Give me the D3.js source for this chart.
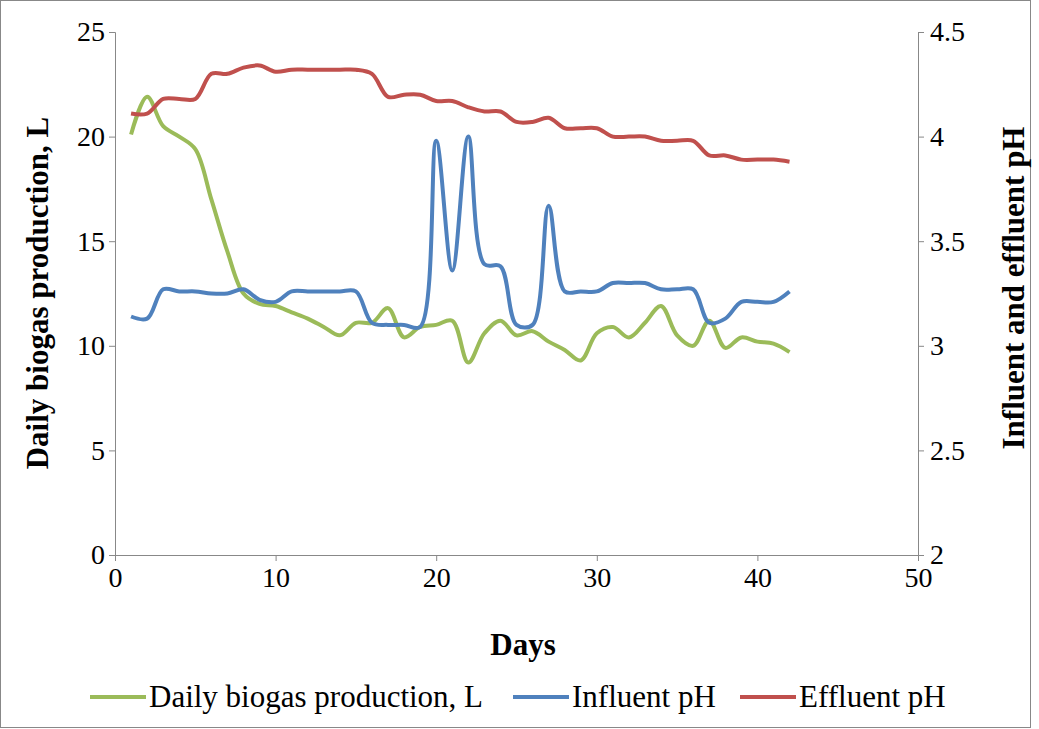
<!DOCTYPE html>
<html><head><meta charset="utf-8">
<script src="https://cdn.jsdelivr.net/npm/d3@7"></script>
<style>body{margin:0;background:#fff}svg{font-family:"Liberation Serif","Times New Roman",serif}</style>
</head><body><svg id="c" width="1039" height="729"></svg>
<script>
const days = d3.range(1,43);
const biogas = [20.1,21.9,20.5,20.0,19.4,17.0,14.5,12.5,12.0,11.9,11.6,11.3,10.9,10.5,11.1,11.1,11.8,10.4,10.9,11.0,11.2,9.2,10.6,11.2,10.5,10.7,10.2,9.8,9.3,10.6,10.9,10.4,11.1,11.9,10.5,10.0,11.2,9.9,10.4,10.2,10.1,9.7];
const influentPH = [3.14,3.13,3.27,3.26,3.26,3.25,3.25,3.27,3.22,3.21,3.26,3.26,3.26,3.26,3.26,3.11,3.10,3.10,3.09,3.98,3.36,4.0,3.39,3.38,3.10,3.10,3.67,3.26,3.26,3.26,3.30,3.30,3.30,3.27,3.27,3.27,3.11,3.13,3.21,3.21,3.21,3.26];
const effluentPH = [4.11,4.11,4.18,4.18,4.18,4.30,4.30,4.33,4.34,4.31,4.32,4.32,4.32,4.32,4.32,4.30,4.19,4.20,4.20,4.17,4.17,4.14,4.12,4.12,4.07,4.07,4.09,4.04,4.04,4.04,4.00,4.00,4.00,3.98,3.98,3.98,3.91,3.91,3.89,3.89,3.89,3.88];
const xTicks=[0,10,20,30,40,50], yTicks=[0,5,10,15,20,25], y2Ticks=[2,2.5,3,3.5,4,4.5];
const svg=d3.select("#c");
svg.append("rect").attr("x",0.5).attr("y",0.5).attr("width",1030).attr("height",727).attr("fill","none").attr("stroke","#888");
const x=d3.scaleLinear().domain([0,50]).range([115,918]);
const y=d3.scaleLinear().domain([0,25]).range([555,32]);
const y2=d3.scaleLinear().domain([2,4.5]).range([555,32]);
const fs="28px";
const ax=svg.append("g").attr("transform","translate(0,555)").call(d3.axisBottom(x).tickValues(xTicks).tickSize(6).tickPadding(6));
const ay=svg.append("g").attr("transform","translate(115,0)").call(d3.axisLeft(y).tickValues(yTicks).tickSize(6).tickPadding(4));
const ay2=svg.append("g").attr("transform","translate(918,0)").call(d3.axisRight(y2).tickValues(y2Ticks).tickFormat(d3.format("~g")).tickSize(6).tickPadding(6));
[ax,ay,ay2].forEach(g=>{g.selectAll("text").style("font-size",fs).style("font-family","Liberation Serif").attr("fill","#000");g.selectAll("line,path").attr("stroke","#888");});
const line=(arr,sc)=>d3.line().x((d,i)=>x(days[i])).y(d=>sc(d)).curve(d3.curveCatmullRom)(arr);
const series=[[biogas,y,"#9bbb59"],[influentPH,y2,"#4f81bd"],[effluentPH,y2,"#c0504d"]];
series.forEach(([a,s,c])=>svg.append("path").attr("d",line(a,s)).attr("fill","none").attr("stroke",c).attr("stroke-width",4));
const tf="31px";
svg.append("text").attr("x",523).attr("y",655).attr("text-anchor","middle").style("font-size",tf).style("font-weight","bold").text("Days");
svg.append("text").attr("transform","translate(48,293) rotate(-90)").attr("text-anchor","middle").style("font-size",tf).style("font-weight","bold").text("Daily biogas production, L");
svg.append("text").attr("transform","translate(1024,288) rotate(-90)").attr("text-anchor","middle").style("font-size",tf).style("font-weight","bold").text("Influent and effluent pH");
const leg=[["Daily biogas production, L","#9bbb59",90],["Influent pH","#4f81bd",513],["Effluent pH","#c0504d",740]];
leg.forEach(([t,c,lx])=>{svg.append("line").attr("x1",lx).attr("x2",lx+56).attr("y1",697).attr("y2",697).attr("stroke",c).attr("stroke-width",4);
svg.append("text").attr("x",lx+59).attr("y",707).style("font-size",tf).text(t);});
</script></body></html>
